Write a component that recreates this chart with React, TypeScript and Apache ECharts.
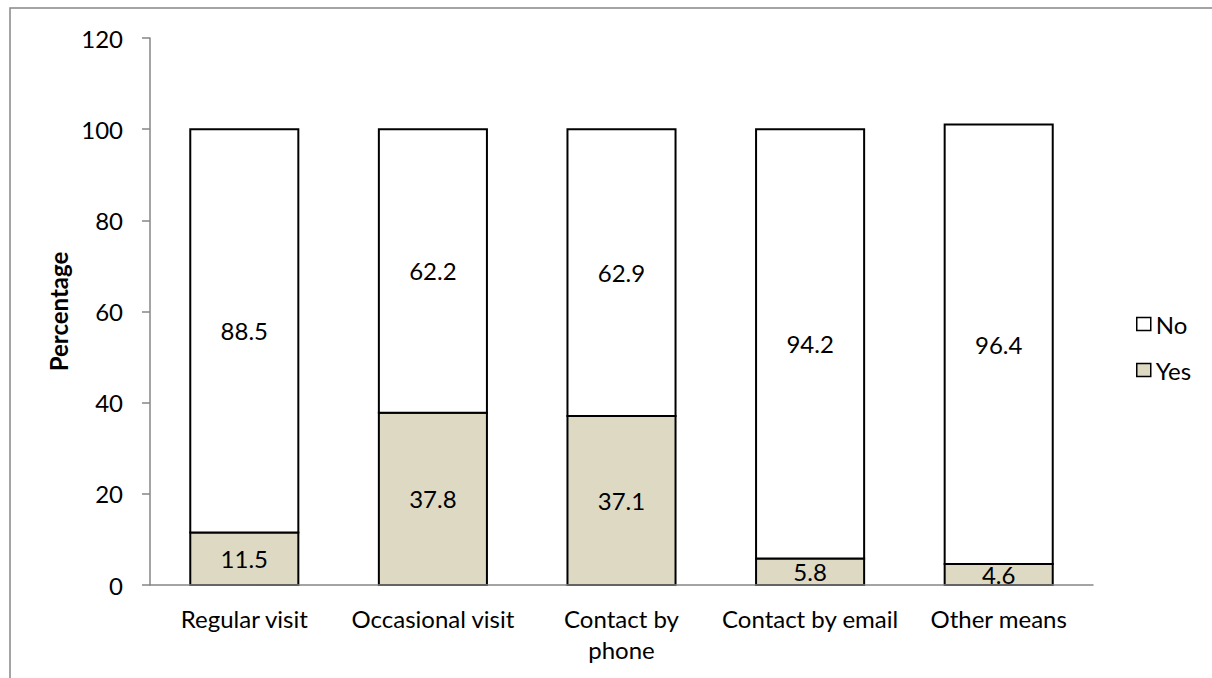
import React, { useEffect, useRef } from "react";
import * as echarts from "echarts";

// Share of respondents by contact type, split into Yes / No
const categories = ["Regular visit", "Occasional visit", "Contact by\nphone", "Contact by email", "Other means"];
const yesValues = [11.5, 37.8, 37.1, 5.8, 4.6];
const noValues = [88.5, 62.2, 62.9, 94.2, 96.4];
const seriesNames = ["No", "Yes"];

const FONT = "Lato, 'Open Sans', sans-serif";
const AXIS_GREY = "#868686";
const YES_FILL = "#DDD9C3";
const NO_FILL = "#FFFFFF";
const BAR_RATIO = 0.573;

// Stacked segment drawn as one rectangle whose outline is centred on its edges,
// so the shared edge of two segments is a single line.
function segmentRenderer(fill: string) {
  return (params: any, api: any) => {
    const idx = api.value(0);
    const start = api.value(1);
    const val = api.value(2);
    const bottom = api.coord([idx, start]);
    const top = api.coord([idx, start + val]);
    const w = api.size([1, 0])[0] * BAR_RATIO;
    return {
      type: "rect",
      shape: { x: bottom[0] - w / 2, y: top[1], width: w, height: bottom[1] - top[1] },
      style: { fill, stroke: "#000", lineWidth: 2 },
      textContent: {
        style: {
          text: String(val),
          fill: "#000",
          fontFamily: FONT,
          fontSize: 24,
        },
      },
      textConfig: { position: "inside" },
    };
  };
}

export default function App() {
  const ref = useRef<HTMLDivElement>(null);

  useEffect(() => {
    if (!ref.current) return;
    const chart = echarts.init(ref.current, undefined, { renderer: "svg" });

    const yesData = yesValues.map((v, i) => [i, 0, v]);
    const noData = noValues.map((v, i) => [i, yesValues[i], v]);

    chart.setOption({
      animation: false,
      backgroundColor: "#fff",
      textStyle: { fontFamily: FONT },
      graphic: [
        {
          type: "rect",
          shape: { x: 10, y: 8, width: 1400, height: 900 },
          style: { fill: "none", stroke: AXIS_GREY, lineWidth: 1.5 },
          silent: true,
        },
      ],
      grid: { left: 150, right: 119, top: 38, bottom: 93, containLabel: false },
      legend: {
        orient: "vertical",
        left: 1136,
        top: 312,
        padding: 0,
        icon: "rect",
        itemWidth: 14,
        itemHeight: 13,
        itemGap: 22,
        data: seriesNames,
        textStyle: { fontFamily: FONT, fontSize: 24, color: "#000", lineHeight: 24 },
        itemStyle: { borderColor: "#000", borderWidth: 1.5 },
      },
      xAxis: {
        type: "category",
        data: categories,
        z: 5,
        axisLine: { lineStyle: { color: AXIS_GREY, width: 1.5 } },
        axisTick: { show: false },
        axisLabel: {
          color: "#000",
          fontFamily: FONT,
          fontSize: 24,
          lineHeight: 31,
          margin: 18,
          interval: 0,
        },
      },
      yAxis: {
        type: "value",
        min: 0,
        max: 120,
        interval: 20,
        name: "Percentage",
        nameLocation: "middle",
        nameRotate: 90,
        nameGap: 74,
        nameTextStyle: { fontFamily: FONT, fontSize: 24, fontWeight: "bold", color: "#000" },
        splitLine: { show: false },
        axisLine: { show: true, lineStyle: { color: AXIS_GREY, width: 1.5 } },
        axisTick: { show: true, length: 8, lineStyle: { color: AXIS_GREY, width: 1.5 } },
        axisLabel: { color: "#000", fontFamily: FONT, fontSize: 24, margin: 27 },
      },
      series: [
        {
          name: "Yes",
          type: "custom",
          z: 2,
          data: yesData,
          encode: { x: 0, y: 2 },
          itemStyle: { color: YES_FILL, borderColor: "#000", borderWidth: 1.5 },
          renderItem: segmentRenderer(YES_FILL),
        },
        {
          name: "No",
          type: "custom",
          z: 2,
          data: noData,
          encode: { x: 0, y: 2 },
          itemStyle: { color: NO_FILL, borderColor: "#000", borderWidth: 1.5 },
          renderItem: segmentRenderer(NO_FILL),
        },
      ],
    });

    return () => chart.dispose();
  }, []);

  return (
    <div
      ref={ref}
      style={{ position: "absolute", left: 0, top: 0, width: 1212, height: 678 }}
    />
  );
}
